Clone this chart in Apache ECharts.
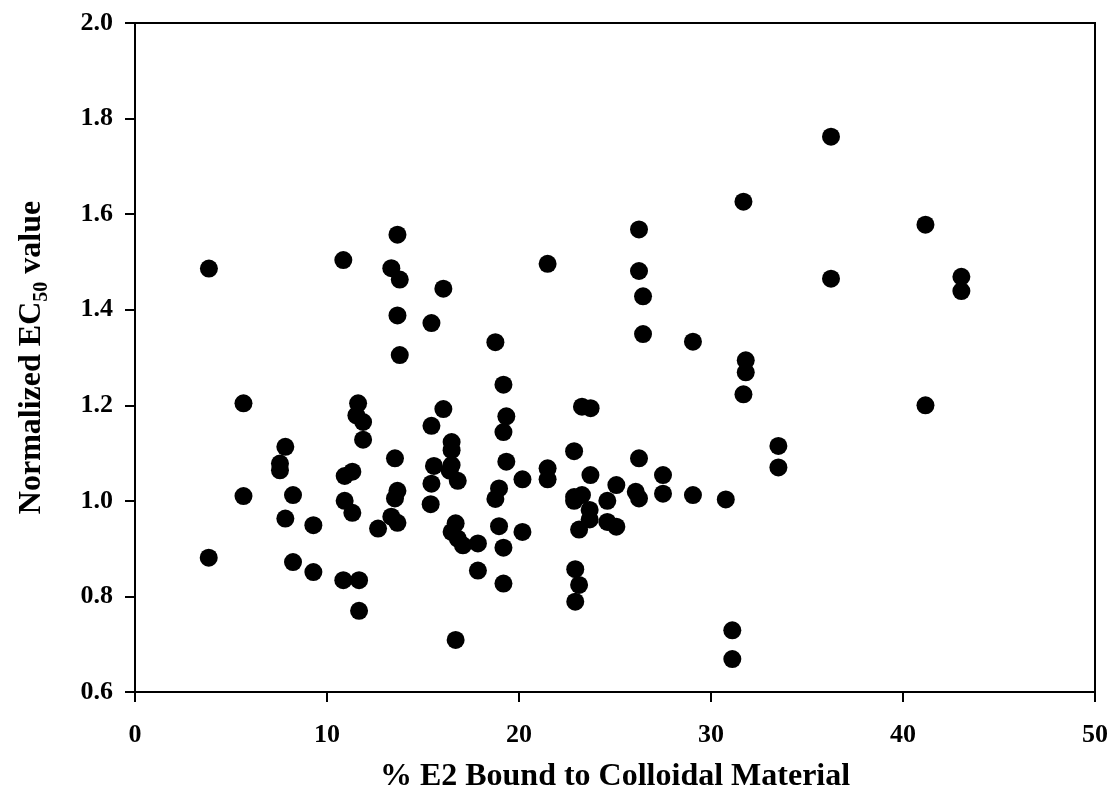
<!DOCTYPE html>
<html>
<head>
<meta charset="utf-8">
<script src="https://cdn.jsdelivr.net/npm/echarts@6/dist/echarts.min.js"></script>
<style>
html,body{margin:0;padding:0;background:#fff;}
#chart{width:1112px;height:804px;}
</style>
</head>
<body>
<div id="chart"></div>
<script>
// % E2 bound to colloidal material (x) and normalized EC50 value (y)
const xValues = [
  3.85, 10.85, 5.65, 11.62, 11.53, 11.88, 11.88, 7.83, 7.55, 7.55,
  11.32, 10.92, 5.65, 8.23, 10.92, 11.32, 7.83, 9.29, 12.66, 3.84,
  8.23, 9.29, 10.85, 11.67, 11.67,
  13.67, 13.35, 13.79, 16.06, 21.49, 13.67, 15.44, 13.79, 18.77, 19.19,
  16.06, 15.44, 19.34, 19.19, 23.28, 23.73, 22.87, 16.49, 16.49, 13.54,
  15.57, 16.49, 16.39, 16.81, 15.44, 19.34, 20.18, 21.49, 21.49, 23.72,
  25.07, 13.67, 13.54, 18.96, 18.77, 22.87, 23.28, 22.87, 23.68, 23.68,
  23.13, 24.6, 24.6, 25.07, 15.40, 13.35, 13.67, 16.70, 16.49, 16.81,
  17.08, 17.86, 18.96, 19.19, 20.18, 17.86, 19.19, 22.93, 23.13, 22.93,
  16.70,
  31.69, 26.25, 26.25, 26.46, 36.25, 26.46, 29.06, 31.81, 31.81, 31.69,
  33.51, 33.51, 26.25, 27.5, 27.5, 26.08, 26.25, 29.06, 30.77, 31.11,
  31.11,
  36.25, 41.17, 43.04, 43.04, 41.17
];
const yValues = [
  1.486, 1.504, 1.204, 1.204, 1.179, 1.165, 1.128, 1.113, 1.078, 1.064,
  1.061, 1.052, 1.010, 1.012, 1.000, 0.975, 0.963, 0.949, 0.942, 0.881,
  0.872, 0.851, 0.834, 0.834, 0.770,
  1.557, 1.487, 1.463, 1.444, 1.496, 1.388, 1.372, 1.305, 1.332, 1.243,
  1.192, 1.157, 1.177, 1.144, 1.197, 1.194, 1.104, 1.123, 1.106, 1.089,
  1.073, 1.075, 1.063, 1.042, 1.036, 1.082, 1.045, 1.068, 1.045, 1.054,
  1.033, 1.021, 1.005, 1.026, 1.004, 1.008, 1.012, 1.000, 0.981, 0.961,
  0.940, 1.000, 0.956, 0.946, 0.993, 0.967, 0.954, 0.953, 0.935, 0.921,
  0.907, 0.911, 0.947, 0.902, 0.935, 0.854, 0.827, 0.857, 0.824, 0.789,
  0.709,
  1.626, 1.568, 1.481, 1.428, 1.465, 1.349, 1.333, 1.294, 1.269, 1.223,
  1.115, 1.070, 1.089, 1.054, 1.015, 1.019, 1.005, 1.012, 1.003, 0.729,
  0.669,
  1.762, 1.578, 1.469, 1.439, 1.200
];
const xTicks = { min: 0, max: 50, interval: 10 };
const yTicks = { min: 0.6, max: 2.0, interval: 0.2 };
const xTitle = '% E2 Bound to Colloidal Material';
const yTitleParts = ['Normalized EC', '50', ' value'];

const points = xValues.map((x, i) => [x, yValues[i]]);
const FONT = "'Liberation Serif', 'Times New Roman', serif";

const chart = echarts.init(document.getElementById('chart'), null, { renderer: 'canvas' });
chart.setOption({
  backgroundColor: '#ffffff',
  animation: false,
  grid: {
    left: 135, right: 17, top: 23, bottom: 112,
    show: true, borderColor: '#000', borderWidth: 2, backgroundColor: 'transparent'
  },
  xAxis: {
    type: 'value',
    min: xTicks.min, max: xTicks.max, interval: xTicks.interval,
    name: xTitle,
    nameLocation: 'middle',
    nameGap: 69,
    nameTextStyle: { fontFamily: FONT, fontWeight: 'bold', fontSize: 32, color: '#000' },
    axisLine: { show: true, onZero: false, lineStyle: { color: '#000', width: 2 } },
    axisTick: { show: true, inside: false, length: 10, lineStyle: { color: '#000', width: 2 } },
    axisLabel: { fontFamily: FONT, fontWeight: 'bold', fontSize: 26, color: '#000', margin: 30 },
    splitLine: { show: false }
  },
  yAxis: {
    type: 'value',
    min: yTicks.min, max: yTicks.max, interval: yTicks.interval,
    name: '{a|' + yTitleParts[0] + '}{s|' + yTitleParts[1] + '}{a|' + yTitleParts[2] + '}',
    nameLocation: 'middle',
    nameRotate: 90,
    nameGap: 86,
    nameTextStyle: {
      fontFamily: FONT, fontWeight: 'bold', fontSize: 32, color: '#000',
      rich: {
        a: { fontFamily: FONT, fontWeight: 'bold', fontSize: 32, color: '#000', lineHeight: 34 },
        s: { fontFamily: FONT, fontWeight: 'bold', fontSize: 20, color: '#000', lineHeight: 20, padding: [20, 0, 0, 0] }
      }
    },
    axisLine: { show: true, onZero: false, lineStyle: { color: '#000', width: 2 } },
    axisTick: { show: true, inside: false, length: 10, lineStyle: { color: '#000', width: 2 } },
    axisLabel: {
      fontFamily: FONT, fontWeight: 'bold', fontSize: 26, color: '#000', margin: 22,
      formatter: v => v.toFixed(1)
    },
    splitLine: { show: false }
  },
  series: [{
    type: 'scatter',
    data: points,
    symbol: 'circle',
    symbolSize: 18,
    itemStyle: { color: '#000', opacity: 1 }
  }]
});
</script>
</body>
</html>
